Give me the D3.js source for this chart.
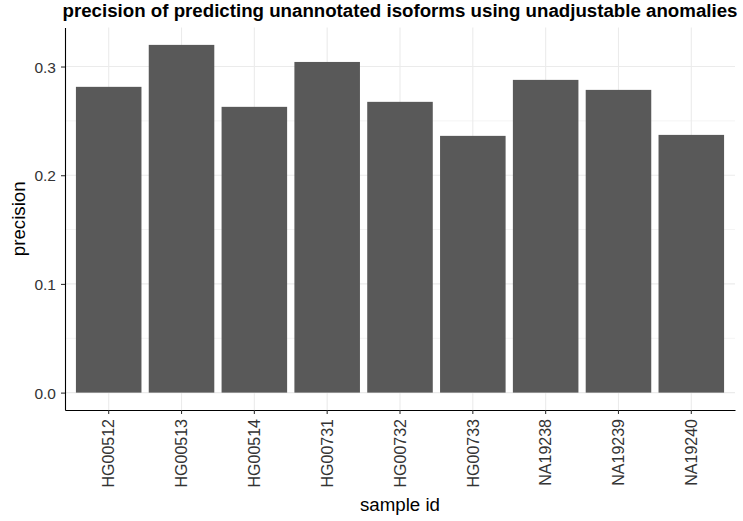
<!DOCTYPE html>
<html>
<head>
<meta charset="utf-8">
<script src="https://cdn.jsdelivr.net/npm/d3@7"></script>
<style>
  body { margin: 0; background: #fff; }
  svg { display: block; font-family: "Liberation Sans", Arial, sans-serif; }
</style>
</head>
<body>
<svg id="chart" width="743" height="521"></svg>
<script>
// sample ids and precision per sample
const samples = ['HG00512', 'HG00513', 'HG00514', 'HG00731', 'HG00732', 'HG00733', 'NA19238', 'NA19239', 'NA19240'];
const precision = [0.2813, 0.3199, 0.2629, 0.3042, 0.2675, 0.2362, 0.2877, 0.2785, 0.2371];
const yTicks = [0, 0.1, 0.2, 0.3];
const yMinor = [0.05, 0.15, 0.25];

const data = samples.map((s, i) => ({sample: s, precision: precision[i]}));

const svg = d3.select('#chart');
const width = +svg.attr('width');
const height = +svg.attr('height');
const margin = {top: 27.5, right: 8, bottom: 111, left: 65};
const innerWidth = width - margin.left - margin.right;
const innerHeight = height - margin.top - margin.bottom;

const maxV = d3.max(data, d => d.precision);
const yScale = d3.scaleLinear()
    .domain([-0.05 * maxV, maxV * 1.05])
    .range([innerHeight, 0]);

const xScale = d3.scaleBand()
    .domain(samples)
    .range([0, innerWidth])
    .paddingInner(0.1)
    .paddingOuter(0.15);

const g = svg.append('g')
    .attr('transform', `translate(${margin.left},${margin.top})`);

// grid
g.selectAll('.minor').data(yMinor).enter().append('line')
    .attr('x1', 0).attr('x2', innerWidth)
    .attr('y1', d => yScale(d)).attr('y2', d => yScale(d))
    .attr('stroke', '#f4f4f4').attr('stroke-width', 1);
g.selectAll('.major').data(yTicks).enter().append('line')
    .attr('x1', 0).attr('x2', innerWidth)
    .attr('y1', d => yScale(d)).attr('y2', d => yScale(d))
    .attr('stroke', '#ebebeb').attr('stroke-width', 1.1);
g.selectAll('.vgrid').data(samples).enter().append('line')
    .attr('y1', 0).attr('y2', innerHeight)
    .attr('x1', d => xScale(d) + xScale.bandwidth() / 2)
    .attr('x2', d => xScale(d) + xScale.bandwidth() / 2)
    .attr('stroke', '#ebebeb').attr('stroke-width', 1.1);

// bars
g.selectAll('rect').data(data)
    .enter().append('rect')
        .attr('x', d => xScale(d.sample))
        .attr('y', d => yScale(d.precision))
        .attr('width', xScale.bandwidth())
        .attr('height', d => yScale(0) - yScale(d.precision))
        .attr('fill', '#595959');

// axes
const yAxisG = g.append('g')
    .call(d3.axisLeft(yScale).tickValues(yTicks).tickFormat(d3.format('.1f'))
        .tickSize(4).tickSizeOuter(0).tickPadding(5));
const xAxisG = g.append('g')
    .attr('transform', `translate(0,${innerHeight})`)
    .call(d3.axisBottom(xScale).tickSize(4).tickSizeOuter(0).tickPadding(5));

[yAxisG, xAxisG].forEach(a => {
    a.attr('font-family', null).attr('font-size', null);
    a.select('.domain').attr('stroke', '#000').attr('stroke-width', 1.1);
    a.selectAll('.tick line').attr('stroke', '#333').attr('stroke-width', 1.1);
    a.selectAll('.tick text').attr('fill', '#333');
});
yAxisG.selectAll('.tick text').attr('font-size', 15.5).attr('dy', '0.36em');
xAxisG.selectAll('.tick text')
    .attr('font-size', 16)
    .attr('x', 0)
    .attr('y', 0)
    .attr('dy', '0.36em')
    .attr('text-anchor', 'end')
    .attr('transform', 'translate(0,9) rotate(-90)');

// titles
svg.append('text')
    .attr('x', margin.left + innerWidth / 2)
    .attr('y', 17)
    .attr('text-anchor', 'middle')
    .attr('font-weight', 'bold')
    .attr('font-size', 18.7)
    .text('precision of predicting unannotated isoforms using unadjustable anomalies');

svg.append('text')
    .attr('x', margin.left + innerWidth / 2)
    .attr('y', 511)
    .attr('text-anchor', 'middle')
    .attr('font-size', 18.7)
    .text('sample id');

svg.append('text')
    .attr('transform', `translate(25,${margin.top + innerHeight / 2}) rotate(-90)`)
    .attr('text-anchor', 'middle')
    .attr('font-size', 18.7)
    .text('precision');
</script>
</body>
</html>
